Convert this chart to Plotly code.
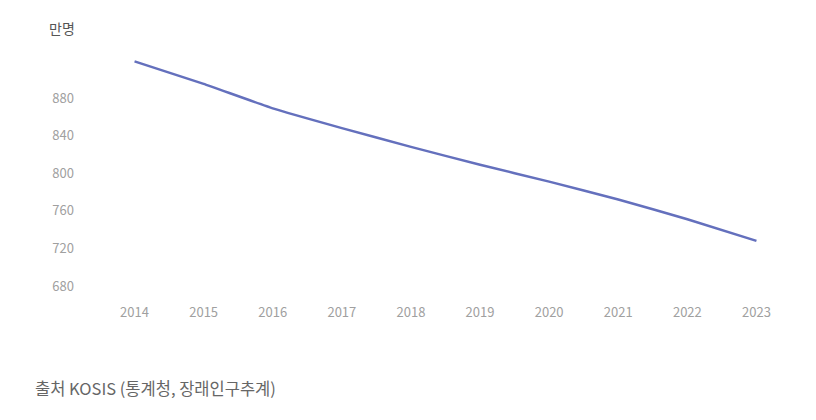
import plotly.graph_objects as go

years = ["2014", "2015", "2016", "2017", "2018", "2019", "2020", "2021", "2022", "2023"]
population = [919, 895, 869, 848, 828, 809, 791, 772, 751, 728]
y_ticks = [680, 720, 760, 800, 840, 880]
unit_label = "만명"
source_text = "출처 KOSIS (통계청, 장래인구추계)"

fig = go.Figure()
fig.add_trace(go.Scatter(
    x=years, y=population, mode="lines",
    line=dict(color="#6470bd", width=2.5, shape="spline", smoothing=0.3),
    hoverinfo="x+y", showlegend=False,
))

tick_font = dict(family="Noto Sans CJK KR, Noto Sans", size=13, color="#a0a0a0")

fig.update_layout(
    width=816, height=420,
    margin=dict(l=100, r=25, t=45, b=125),
    paper_bgcolor="white", plot_bgcolor="white",
    xaxis=dict(
        type="category", range=[-0.5, 9.5],
        showgrid=False, zeroline=False, showline=False, ticks="",
        tickfont=tick_font, ticklabelstandoff=8,
    ),
    yaxis=dict(
        range=[670.4, 936.4], tickvals=y_ticks,
        showgrid=False, zeroline=False, showline=False, ticks="",
        tickfont=tick_font, ticklabelstandoff=25,
    ),
    annotations=[
        dict(text=unit_label, xref="paper", yref="paper", x=-0.033, y=1.068,
             xanchor="right", yanchor="middle", showarrow=False,
             font=dict(family="Noto Sans CJK KR", size=14, color="#555555")),
        dict(text=source_text, xref="paper", yref="paper", x=-0.097, y=-0.372,
             xanchor="left", yanchor="middle", showarrow=False,
             font=dict(family="Noto Sans CJK KR", size=16.5, color="#666666")),
    ],
)

fig.write_html("out.html")
